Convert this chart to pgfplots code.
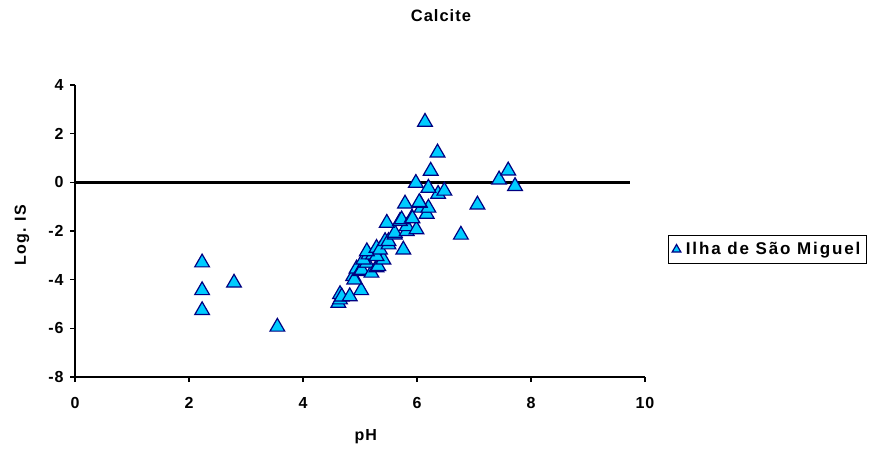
\documentclass[border=0pt]{standalone}
\usepackage{fontspec}
\setmainfont{Liberation Sans}[LetterSpace=6]
\newfontfamily\legfont[LetterSpace=11]{Liberation Sans}
\usepackage{pgfplots}
\pgfplotsset{compat=1.18}
\definecolor{mfill}{RGB}{0,204,255}
\definecolor{medge}{RGB}{0,0,128}
\pgfplotstableread{
x y
2.23 -3.30
2.23 -4.44
2.23 -5.26
2.79 -4.13
3.55 -5.94
4.62 -4.96
4.65 -4.82
4.65 -4.60
4.68 -4.70
4.82 -4.69
5.02 -4.44
4.88 -3.86
4.90 -4.00
4.94 -3.55
5.00 -3.66
5.03 -3.60
5.20 -3.72
5.09 -3.31
5.12 -3.31
5.29 -3.50
5.32 -3.45
5.06 -3.18
5.41 -3.18
5.15 -2.97
5.23 -2.97
5.29 -3.04
5.12 -2.84
5.29 -2.70
5.35 -2.77
5.44 -2.42
5.50 -2.56
5.50 -2.42
5.61 -2.15
5.61 -2.08
5.76 -2.77
5.82 -2.01
5.82 -1.81
5.99 -1.94
5.47 -1.67
5.70 -1.60
5.73 -1.53
5.91 -1.46
5.92 -1.49
6.17 -1.30
6.08 -1.05
6.20 -1.05
5.79 -0.88
6.05 -0.85
6.04 -0.82
6.37 -0.48
6.48 -0.35
6.20 -0.23
5.98 -0.03
6.24 0.47
6.36 1.22
6.14 2.48
6.77 -2.16
7.06 -0.92
7.44 0.11
7.60 0.48
7.72 -0.16
}\datatable
\begin{document}
\begin{tikzpicture}[x=1pt,y=1pt]
\path[use as bounding box] (0,0) rectangle (880,459);
\begin{axis}[
  at={(75pt,82pt)}, anchor=south west,
  scale only axis, width=570pt, height=292pt,
  xmin=0, xmax=10, ymin=-8, ymax=4,
  axis lines*=left,
  axis line style={line width=2.2pt, black},
  xtick={0,2,4,6,8,10}, xticklabels={0,2,4,6,8,10},
  ytick={-8,-6,-4,-2,0,2,4}, yticklabels={-8,-6,-4,-2,0,2,4},
  tick align=outside, major tick length=5pt,
  tick style={line width=1.5pt, black},
  ticklabel style={font=\fontsize{16}{18}\selectfont\bfseries},
  xticklabel style={yshift=-12pt},
  yticklabel style={xshift=-3pt},
  xlabel={pH}, ylabel={Log. IS},
  label style={font=\fontsize{16}{18}\selectfont\bfseries},
  xlabel style={at={(rel axis cs:0.51,-0.205)}, anchor=center},
  ylabel style={at={(rel axis cs:-0.093,0.486)}, anchor=center, rotate=0},
  title={Calcite},
  title style={at={(rel axis cs:0.642,1.216)}, anchor=center, font=\fontsize{16.5}{18}\selectfont\bfseries},
  legend style={at={(rel axis cs:1.040,0.4366)}, anchor=west, draw=black, line width=0.8pt,
    font=\fontsize{17}{19}\selectfont\bfseries\legfont, inner xsep=4pt, inner ysep=5pt},
  legend image post style={mark size=5pt},
  clip=false,
]
\addplot[only marks, mark=triangle*, mark size=8.5pt,
  mark options={fill=mfill, draw=medge, line width=1.2pt}] table[x=x,y=y] {\datatable};
\addlegendentry{\hspace{3pt}Ilha de São Miguel}
\addplot[black, line width=2.5pt, forget plot] coordinates {(0,0) (9.74,0)};
\end{axis}
\end{tikzpicture}
\end{document}
